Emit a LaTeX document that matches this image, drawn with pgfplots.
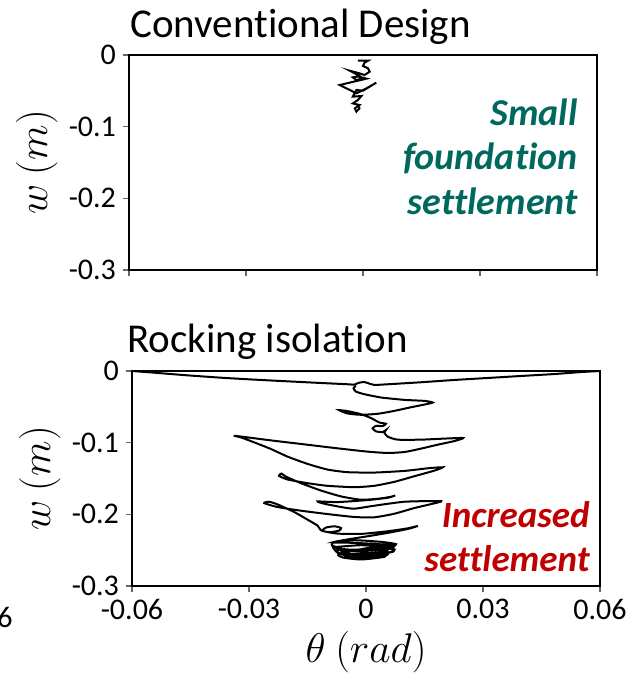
\documentclass[border=0pt]{standalone}
\usepackage{fontspec}
\setmainfont[RawFeature={-liga,-clig,-calt}]{Carlito}
\usepackage{pgfplots}
\pgfplotsset{compat=1.18}
\definecolor{teal}{HTML}{00695E}
\definecolor{darkred}{HTML}{C00000}

% history curves, theta (rad) vs w (m)
\pgfplotstableread{
th w
-0.0013 -0.0079
0.0013 -0.0079
0.0004 -0.0107
0.0000 -0.0153
0.0013 -0.0186
0.0017 -0.0233
0.0004 -0.0279
-0.0009 -0.0256
-0.0034 -0.0219
-0.0021 -0.0256
-0.0009 -0.0293
0.0000 -0.0326
-0.0017 -0.0349
-0.0026 -0.0312
-0.0013 -0.0300
0.0009 -0.0330
-0.0060 -0.0419
-0.0034 -0.0488
-0.0017 -0.0535
0.0009 -0.0465
0.0034 -0.0386
0.0017 -0.0442
0.0000 -0.0498
-0.0017 -0.0488
-0.0026 -0.0581
-0.0004 -0.0572
-0.0013 -0.0628
-0.0026 -0.0675
-0.0009 -0.0698
-0.0021 -0.0744
-0.0017 -0.0791
-0.0009 -0.0744
-0.0013 -0.0698
}\conventional

\pgfplotstableread{
th w
-0.0600 0.0000
-0.0544 -0.0023
-0.0459 -0.0060
-0.0373 -0.0093
-0.0287 -0.0120
-0.0201 -0.0144
-0.0116 -0.0167
-0.0047 -0.0185
-0.0030 -0.0190
-0.0020 -0.0167
-0.0006 -0.0153
0.0004 -0.0167
0.0021 -0.0194
0.0056 -0.0185
0.0141 -0.0157
0.0227 -0.0125
0.0313 -0.0097
0.0399 -0.0069
0.0484 -0.0042
0.0553 -0.0014
0.0600 0.0000
}\rockingtop

\pgfplotstableread{
th w
-0.0026 -0.0204
-0.0032 -0.0241
-0.0026 -0.0287
-0.0004 -0.0324
0.0039 -0.0370
0.0099 -0.0403
0.0150 -0.0417
0.0171 -0.0440
0.0150 -0.0468
0.0116 -0.0505
0.0073 -0.0556
0.0030 -0.0597
-0.0013 -0.0611
-0.0047 -0.0593
-0.0069 -0.0546
-0.0047 -0.0560
-0.0013 -0.0602
0.0013 -0.0657
0.0034 -0.0718
0.0051 -0.0736
0.0043 -0.0769
0.0026 -0.0764
0.0017 -0.0801
0.0026 -0.0843
0.0043 -0.0852
0.0051 -0.0824
0.0047 -0.0861
0.0056 -0.0917
0.0081 -0.0958
0.0141 -0.0958
0.0193 -0.0945
0.0249 -0.0935
0.0227 -0.0977
0.0184 -0.1028
0.0141 -0.1083
0.0099 -0.1130
0.0056 -0.1144
0.0004 -0.1125
-0.0073 -0.1079
-0.0159 -0.1023
-0.0244 -0.0968
-0.0304 -0.0926
-0.0339 -0.0903
-0.0321 -0.0926
-0.0287 -0.0995
-0.0244 -0.1088
-0.0201 -0.1195
-0.0150 -0.1296
-0.0099 -0.1375
-0.0047 -0.1412
0.0021 -0.1417
0.0099 -0.1394
0.0159 -0.1357
0.0197 -0.1343
0.0176 -0.1389
0.0124 -0.1468
0.0073 -0.1546
0.0021 -0.1602
-0.0030 -0.1621
-0.0099 -0.1602
-0.0150 -0.1565
-0.0201 -0.1514
-0.0223 -0.1463
-0.0217 -0.1431
-0.0206 -0.1472
-0.0167 -0.1565
-0.0116 -0.1667
-0.0064 -0.1750
-0.0013 -0.1796
0.0030 -0.1783
0.0064 -0.1755
0.0075 -0.1736
0.0056 -0.1769
0.0004 -0.1801
-0.0073 -0.1829
-0.0124 -0.1820
-0.0107 -0.1852
-0.0064 -0.1898
-0.0030 -0.1921
0.0021 -0.1880
0.0099 -0.1824
0.0193 -0.1815
0.0167 -0.1857
0.0124 -0.1912
0.0073 -0.1991
0.0021 -0.2042
-0.0030 -0.2037
-0.0099 -0.1996
-0.0167 -0.1949
-0.0227 -0.1898
-0.0261 -0.1843
-0.0249 -0.1824
-0.0227 -0.1861
-0.0184 -0.1968
-0.0150 -0.2074
-0.0124 -0.2158
-0.0116 -0.2222
-0.0094 -0.2250
-0.0069 -0.2227
-0.0064 -0.2190
-0.0081 -0.2167
-0.0103 -0.2185
-0.0111 -0.2232
-0.0073 -0.2269
-0.0013 -0.2273
0.0056 -0.2236
0.0107 -0.2195
0.0133 -0.2162
0.0107 -0.2204
0.0056 -0.2259
0.0004 -0.2306
-0.0039 -0.2343
-0.0081 -0.2384
-0.0030 -0.2361
0.0039 -0.2384
0.0077 -0.2417
0.0056 -0.2477
-0.0013 -0.2500
-0.0073 -0.2477
-0.0086 -0.2431
-0.0077 -0.2454
-0.0013 -0.2431
0.0064 -0.2454
0.0069 -0.2523
0.0004 -0.2570
-0.0064 -0.2547
-0.0075 -0.2500
-0.0004 -0.2491
0.0056 -0.2523
0.0047 -0.2593
-0.0013 -0.2630
-0.0060 -0.2602
-0.0069 -0.2556
0.0013 -0.2463
0.0073 -0.2491
0.0039 -0.2570
-0.0030 -0.2593
-0.0073 -0.2537
-0.0086 -0.2398
0.0004 -0.2407
0.0073 -0.2440
0.0030 -0.2537
-0.0039 -0.2556
-0.0064 -0.2509
-0.0013 -0.2523
0.0047 -0.2547
0.0021 -0.2602
-0.0039 -0.2611
-0.0056 -0.2570
}\rocking

\begin{document}
\begin{tikzpicture}
\pgfplotsset{
  panel/.style={
    anchor=south west,
    scale only axis,
    width=234pt, height=107.5pt,
    xmin=-0.06, xmax=0.06,
    ymin=-0.3, ymax=0,
    xtick={-0.06,-0.03,0,0.03,0.06},
    ytick={-0.3,-0.2,-0.1,0},
    yticklabels={-0.3,-0.2,-0.1,0},
    scaled x ticks=false, scaled y ticks=false,
    tick align=outside,
    xtick pos=bottom, ytick pos=left,
    major tick length=3pt,
    tick style={gray!80!black, line width=0.6pt},
    axis line style={line width=0.6pt},
    ticklabel style={font=\fontsize{15}{18}\selectfont},
    /pgf/number format/assume math mode=true,
    ylabel={$w\ (m)$},
    ylabel style={font=\fontsize{21.5}{25}\selectfont, at={(axis description cs:-0.197,0.5)}, anchor=center},
  },
}
\path[use as bounding box] (0,0) rectangle (318pt,340.5pt);

\begin{axis}[panel, at={(64.5pt,205.5pt)}, xticklabels={}]
\addplot[black, line width=1pt] table {\conventional};
\end{axis}

\begin{axis}[panel, at={(66pt,47.5pt)},
  xticklabels={-0.06,-0.03,0,0.03,0.06},
  xlabel={$\theta\ (rad)$},
  xlabel style={font=\fontsize{21.5}{25}\selectfont, at={(axis description cs:0.5,-0.307)}, anchor=center},
]
\addplot[black, line width=1pt, smooth, tension=0.35] table {\rockingtop};
\addplot[black, line width=1pt, smooth, tension=0.35] table {\rocking};
\end{axis}

\node[anchor=base west, inner sep=0, font=\fontsize{20.5}{24}\selectfont] at (65pt,321.75pt) {Convent\kern0pt ional Design};
\node[anchor=base west, inner sep=0, font=\fontsize{20.5}{24}\selectfont] at (63.5pt,164pt) {Rocking isolat\kern0pt ion};

\begin{scope}[every node/.style={anchor=base east, inner sep=0, text=teal, font=\fontsize{19}{22}\selectfont\bfseries\itshape}]
\node at (289pt,277.5pt) {Small};
\node at (289pt,255.5pt) {foundat\kern0pt ion};
\node at (289pt,233pt) {settlement};
\end{scope}
\begin{scope}[every node/.style={anchor=base east, inner sep=0, text=darkred, font=\fontsize{18.5}{22}\selectfont\bfseries\itshape}]
\node at (295pt,76.5pt) {Increased};
\node at (295pt,54.5pt) {settlement};
\end{scope}

\node[anchor=base east, inner sep=0, font=\fontsize{15}{18}\selectfont] at (6.5pt,27pt) {6};
\end{tikzpicture}
\end{document}
